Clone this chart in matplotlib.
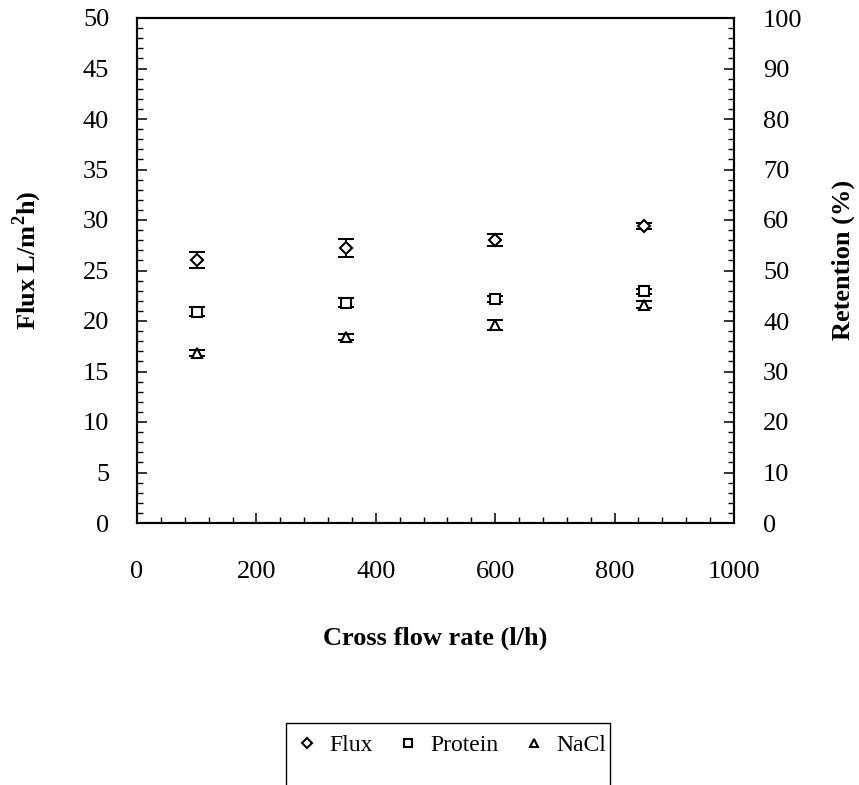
import matplotlib
matplotlib.use("Agg")
import matplotlib.pyplot as plt
from matplotlib.lines import Line2D
from matplotlib.patches import Rectangle
from matplotlib.ticker import MultipleLocator

plt.rcParams['font.family'] = ['Liberation Serif', 'DejaVu Serif']
plt.rcParams['mathtext.fontset'] = 'custom'
plt.rcParams['mathtext.rm'] = 'Liberation Serif'
plt.rcParams['mathtext.bf'] = 'Liberation Serif:bold'

# data
cross_flow = [100, 350, 600, 850]
flux = [26.0, 27.2, 28.0, 29.4]
flux_err = [0.8, 0.9, 0.6, 0.3]
protein = [41.8, 43.6, 44.4, 45.9]
protein_err = [0.9, 0.9, 0.6, 0.5]
nacl = [33.6, 36.9, 39.2, 43.2]
nacl_err = [0.6, 0.6, 0.9, 0.7]

W, H = 859, 785
fig = plt.figure(figsize=(W / 100, H / 100), dpi=100)
ax = fig.add_axes([137 / W, 1 - 523 / H, 597 / W, 505 / H])
ax2 = ax.twinx()

fs = 19
ebkw = dict(fmt='none', ecolor='black', elinewidth=1.4, capsize=5.5, capthick=1.4)
mkw = dict(ls='none', mfc='white', mec='black', mew=1.5)

ax.errorbar(cross_flow, flux, yerr=flux_err, **ebkw)
ax.plot(cross_flow, flux, marker='D', ms=6.3, **mkw)
ax2.errorbar(cross_flow, protein, yerr=protein_err, **ebkw)
ax2.plot(cross_flow, protein, marker='s', ms=7, **mkw)
ax2.errorbar(cross_flow, nacl, yerr=nacl_err, **ebkw)
ax2.plot(cross_flow, nacl, marker='^', ms=7.5, **mkw)

ax.set_xlim(0, 1000)
ax.set_ylim(0, 50)
ax2.set_ylim(0, 100)
ax.xaxis.set_major_locator(MultipleLocator(200))
ax.xaxis.set_minor_locator(MultipleLocator(40))
ax.yaxis.set_major_locator(MultipleLocator(5))
ax.yaxis.set_minor_locator(MultipleLocator(1))
ax2.yaxis.set_major_locator(MultipleLocator(10))
ax2.yaxis.set_minor_locator(MultipleLocator(2))

for a in (ax, ax2):
    for s in a.spines.values():
        s.set_linewidth(1.5)
    a.tick_params(which='major', direction='in', length=7, width=1.1, labelsize=fs)
    a.tick_params(which='minor', direction='in', length=4.5, width=1.0)
ax.tick_params(axis='x', which='major', pad=27)
ax.tick_params(axis='y', which='major', pad=20)
ax2.tick_params(axis='y', which='major', pad=21)

ax.set_xlabel('Cross flow rate (l/h)', fontsize=fs, fontweight='bold')
ax.xaxis.set_label_coords(0.5, -0.205)
ax.set_ylabel(r'Flux L/m$^{\mathbf{2}}$h)', fontsize=fs, fontweight='bold')
ax.yaxis.set_label_coords(-0.155, 0.52)
ax2.set_ylabel('Retention (%)', fontsize=fs, fontweight='bold')
ax2.yaxis.set_label_coords(1.163, 0.52)

handles = [
    Line2D([], [], marker='D', ms=4.8, **mkw),
    Line2D([], [], marker='s', ms=5.5, **mkw),
    Line2D([], [], marker='^', ms=6, **mkw),
]
fig.legend(handles, ['Flux', 'Protein', 'NaCl'], ncol=3, loc='center',
           bbox_to_anchor=(452 / W, 1 - 745 / H), frameon=False, fontsize=17,
           handlelength=0.8, handletextpad=0.55, columnspacing=1.1)
fig.add_artist(Rectangle((286 / W, -0.05), 324 / W, 0.05 + (1 - 723 / H),
                         transform=fig.transFigure, fill=False, ec='black',
                         lw=1.0, clip_on=False))

fig.savefig('out.png', dpi=100)
